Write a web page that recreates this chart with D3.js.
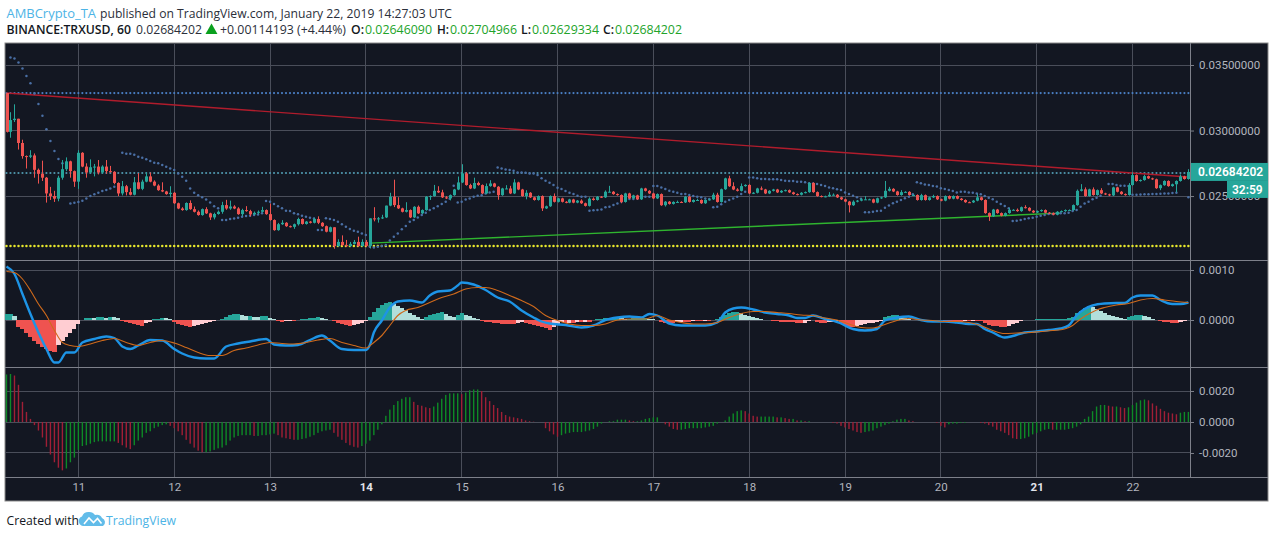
<!DOCTYPE html>
<html><head><meta charset="utf-8">
<script src="https://cdn.jsdelivr.net/npm/d3@7/dist/d3.min.js"></script>
<style>html,body{margin:0;padding:0;background:#fff;overflow:hidden}svg{display:block}text{font-family:"Open Sans",Roboto,sans-serif}</style>
</head><body><svg id="c" width="1274" height="538"></svg>
<script>
// All series are hourly bars, in units of 0.00001 USD
const unit = 1e-5;
const firstOpen = 3286;
const closes = [
2990,3080,3090,2905,2805,2800,2810,2700,2670,2640,
2520,2500,2480,2640,2705,2765,2690,2610,2830,2725,
2680,2720,2725,2680,2725,2690,2685,2600,2520,2575,
2530,2510,2605,2555,2610,2650,2610,2580,2545,2535,
2515,2525,2445,2405,2393,2447,2400,2380,2355,2400,
2368,2337,2363,2380,2431,2405,2420,2405,2362,2393,
2385,2360,2372,2380,2393,2362,2317,2240,2285,2296,
2270,2265,2285,2325,2287,2305,2296,2325,2296,2270,
2228,2262,2118,2150,2125,2118,2135,2150,2118,2150,
2120,2330,2322,2330,2337,2427,2495,2431,2406,2380,
2393,2337,2418,2368,2393,2495,2500,2540,2528,2490,
2482,2507,2550,2604,2673,2584,2558,2600,2584,2520,
2576,2596,2571,2507,2558,2558,2520,2604,2550,2500,
2525,2490,2470,2500,2406,2422,2500,2456,2482,2456,
2450,2474,2450,2465,2445,2425,2480,2470,2495,2490,
2533,2533,2515,2508,2455,2520,2482,2505,2475,2558,
2540,2520,2482,2515,2430,2457,2440,2455,2455,2452,
2495,2455,2470,2470,2445,2470,2475,2510,2455,2552,
2635,2575,2550,2540,2576,2585,2520,2525,2558,2550,
2520,2540,2550,2528,2540,2545,2528,2515,2510,2525,
2530,2600,2530,2500,2495,2498,2510,2510,2490,2475,
2458,2430,2457,2465,2475,2475,2475,2450,2483,2490,
2540,2555,2535,2508,2530,2532,2508,2508,2470,2507,
2470,2490,2500,2475,2465,2500,2480,2500,2480,2470,
2453,2452,2465,2490,2470,2370,2345,2397,2370,2350,
2370,2395,2395,2385,2415,2410,2388,2375,2385,2393,
2373,2370,2358,2380,2385,2393,2393,2431,2540,2551,
2500,2551,2508,2545,2520,2513,2505,2566,2533,2515,
2508,2584,2660,2615,2622,2652,2635,2628,2560,2583,
2615,2576,2590,2615,2650,2630,2684];
const wickUp = [
0,60,110,0,25,5,40,15,10,100, 5,50,40,15,70,30,5,5,20,5,
25,60,20,50,10,50,40,5,5,40, 10,30,40,70,15,30,30,10,10,60,
5,50,5,5,10,5,20,20,10,5, 15,5,10,10,25,40,45,10,10,10,
30,10,10,10,25,5,80,5,10,20, 5,5,5,10,5,5,5,10,20,5,
5,5,0,20,50,40,15,15,40,20, 15,0,85,10,20,0,30,130,60,5,
60,5,5,10,5,5,5,45,35,20, 10,5,5,45,70,10,10,40,10,5,
20,25,5,5,5,25,20,25,5,5, 20,5,5,5,5,5,5,20,5,5,
5,5,5,5,10,5,10,10,5,5, 10,45,5,5,5,5,5,5,5,5,
5,5,5,5,5,5,5,5,10,5, 5,5,5,10,5,5,5,15,15,5,
5,20,30,10,20,5,5,5,5,15, 5,5,5,5,5,5,5,5,5,5,
5,5,5,5,5,5,20,10,5,5, 5,5,10,5,10,25,5,5,5,5,
75,15,5,5,15,5,5,5,5,10, 5,5,10,5,5,5,5,5,5,5,
5,5,5,25,5,5,5,5,5,5, 5,15,5,10,5,15,5,5,5,5,
5,5,5,5,5,5,5,5,10,40, 15,5,15,5,15,5,5,5,5,5,
5,15,20,5,5,10,5,5,5,5, 5,5,5,5,15,5,21];
const wickDown = [
5,45,15,50,20,90,10,60,75,25, 70,30,25,20,15,15,50,40,55,5,
40,5,70,15,10,20,5,10,20,15, 25,5,5,5,10,5,5,5,5,5,
5,25,5,5,5,5,5,5,5,5, 5,20,15,5,15,10,10,5,5,15,
5,15,5,10,5,5,5,5,5,5, 5,5,15,10,5,5,5,5,10,5,
5,5,20,5,5,5,5,5,5,5, 10,20,15,25,5,5,5,15,5,5,
5,5,5,5,5,5,25,5,5,5, 5,15,5,5,5,5,5,5,5,5,
5,5,5,35,5,5,5,5,5,5, 25,5,5,5,20,5,5,5,5,5,
5,5,5,5,5,5,5,5,5,5, 5,5,5,5,10,5,5,5,5,5,
5,5,5,5,5,10,5,5,5,5, 5,5,5,5,5,5,5,5,5,5,
5,5,5,5,5,5,5,5,5,5, 5,5,5,5,5,5,5,5,5,5,
5,5,5,5,5,5,5,5,5,5, 5,55,5,5,5,5,5,5,5,5,
5,5,5,5,5,5,5,5,5,5, 5,5,5,5,5,5,5,5,5,5,
5,5,5,5,5,5,35,5,5,5, 5,5,5,5,5,5,5,5,5,5,
5,5,5,5,5,5,5,5,5,5, 5,5,5,5,5,5,5,5,5,5,
5,5,5,5,5,5,5,5,5,15, 5,5,5,60,5,5,5];
// Parabolic SAR runs: [first bar, values]
const sarRuns = [
[1,[3558,3550,3520,3474,3416,3360,3283,3202,3113,3009,2920,2843,2782,2750]],
[16,[2444,2449,2454,2465,2482,2500,2513,2525,2538,2546,2558,2571,2584]],
[29,[2831,2823,2823,2815,2800,2793,2780,2767,2755,2750,2737,2724,2711,2699,2673,2648,2617,2558,2525,2507,2490,2474,2451,2423,2406]],
[54,[2317,2317,2324,2329,2334,2342,2347,2350,2355,2360,2368]],
[65,[2462,2457,2439,2423,2406,2388,2385,2368,2362,2350,2342,2334,2329]],
[78,[2240,2240]],
[80,[2330,2324,2317,2304,2284,2266,2248,2235,2228,2215,2202]],
[91,[2113,2108,2113,2118,2126,2160,2190,2215,2246,2271,2304,2317,2337,2355,2373,2393,2406,2423,2439,2457,2480,2578]],
[113,[2451,2457,2474,2482,2495,2502,2507,2520,2528,2533]],
[123,[2718,2711,2703,2698,2693,2680,2680,2678,2673,2673,2660,2635,2617,2602,2584,2563,2553,2538,2525,2515,2502,2495,2495]],
[146,[2388,2391,2393,2398,2414,2419,2431,2444,2457,2469,2477,2477,2482,2495,2495,2495]],
[162,[2576,2576,2566,2553,2541,2533,2525,2515,2515,2508,2500,2495,2490,2482,2477]],
[177,[2414,2419,2437,2457,2470,2482,2495,2515,2533]],
[186,[2642,2642,2635,2630,2630,2628,2628,2628,2622,2617,2615,2615,2610,2610,2605,2597,2595,2592,2584,2577,2566,2559,2551,2546,2528,2515,2503,2490,2480]],
[215,[2376,2376,2381,2386,2388,2411,2427,2445,2457,2470,2483,2495,2513]],
[228,[2605,2597,2589,2584,2577,2572,2559,2554,2546,2538,2528,2533,2533,2528,2525,2520,2513,2500,2487,2475,2457,2439,2424,2406]],
[252,[2309,2312,2317,2325,2330,2335,2342,2350,2355,2363,2363,2368,2368,2368,2373,2386,2393,2419,2444,2457,2475,2487,2503]],
[276,[2592,2592,2584,2579,2579,2576]],
[282,[2510,2510,2512,2513,2513,2515,2515,2518,2520,2520,2523,2525]],
[296,[2490]]];
// Horizontal levels and trend lines (bar index, price)
const levelBlue = 3286, levelTeal = 2676, levelYellow = 2119;
const trendRed = [[0,3286],[296,2645]];
const trendGreen = [[91,2141],[264,2370]];
// MACD panel
const macdHist = [
12,12,8,-14,-18,-26,-34,-42,-48,-54,
-58,-62,-64,-50,-42,-34,-26,-18,-8,1,
4,5,4,6,6,4,7,6,4,-2,
-4,-6,-8,-10,-12,-6,-3,2,3,5,
4,3,-4,-8,-10,-12,-14,-12,-10,-8,
-6,-4,-2,1,2,6,10,12,12,10,
8,8,7,6,8,8,4,2,-2,-4,
-2,-1,-1,1,2,3,4,5,6,5,
3,1,-1,-6,-8,-10,-12,-10,-8,-5,
-2,6,16,24,30,34,36,32,28,24,
20,14,10,6,2,6,10,12,14,16,
12,8,6,10,14,10,8,5,2,-2,
-3,-4,-5,-6,-7,-8,-8,-8,-6,-4,
-5,-8,-10,-12,-14,-16,-20,-14,-8,-4,
-6,-5,-5,-4,-4,-3,-3,1,2,3,
4,4,5,5,4,3,3,4,4,4,
4,3,2,0,-4,-6,-6,-6,-4,-3,
-3,-3,-2,-2,-2,-1,-1,1,2,6,
10,14,16,16,14,10,8,6,4,3,
1,0,-2,-2,-3,-3,-4,-4,-5,-6,
-5,-1,0,-4,-5,-5,-4,-3,-1,-6,
-10,-14,-14,-12,-10,-8,-6,-5,-4,-2,
6,8,10,10,8,4,2,1,0,0,
0,0,0,0,0,-1,-2,-2,-3,-3,
-2,-2,-1,-1,-1,-6,-10,-12,-12,-14,
-14,-12,-8,-5,-2,0,1,1,2,2,
2,2,2,2,3,3,4,6,14,18,
24,28,26,22,18,14,10,8,6,4,
2,6,8,10,10,8,6,3,0,-2,
-4,-4,-5,-5,-4,-2,1];
const macdLine = [[0,107],[2,92],[4,52],[6,12],[8,-25],[10,-58],[12,-85],[13,-85],[15,-65],[17,-65],[19,-45],[22,-38],[25,-33],[27,-36],[29,-53],[31,-58],[33,-51],[36,-40],[39,-41],[42,-58],[44,-67],[47,-75],[50,-77],[52,-77],[55,-53],[58,-47],[61,-43],[65,-38],[67,-49],[70,-51],[73,-50],[76,-40],[79,-31],[81,-41],[84,-58],[87,-60],[90,-60],[91,-50],[92,-25],[94,-1],[96,25],[98,37],[101,39],[104,35],[106,49],[108,57],[111,59],[113,69],[114,75],[117,71],[120,60],[123,45],[126,37],[129,19],[132,5],[134,-3],[136,-7],[140,-10],[144,-15],[147,-11],[150,0],[153,5],[156,7],[159,5],[161,12],[163,9],[166,-7],[169,-11],[172,-11],[175,-11],[178,-5],[180,15],[182,23],[184,25],[187,21],[190,15],[193,12],[196,9],[198,4],[200,4],[202,9],[205,2],[207,-1],[209,-7],[212,-18],[215,-21],[218,-18],[220,-1],[223,5],[226,7],[229,0],[232,-3],[235,-3],[238,-5],[241,-8],[243,-8],[245,-18],[247,-25],[250,-35],[252,-32],[255,-25],[258,-23],[261,-20],[264,-17],[266,-11],[268,9],[270,22],[272,29],[275,33],[278,34],[280,34],[282,45],[284,49],[287,49],[289,40],[292,32],[294,32],[296,35]];
const signalLine = [[0,97],[2,95],[4,82],[6,59],[8,32],[10,9],[12,-21],[14,-45],[16,-51],[18,-53],[21,-48],[24,-41],[27,-37],[30,-45],[33,-51],[36,-45],[39,-41],[42,-46],[45,-55],[48,-65],[51,-71],[54,-71],[57,-61],[60,-56],[63,-50],[66,-45],[69,-47],[72,-48],[75,-45],[78,-40],[81,-37],[84,-45],[87,-51],[90,-56],[92,-45],[94,-31],[96,-11],[98,9],[100,19],[103,25],[106,35],[109,45],[112,52],[115,62],[118,65],[120,65],[123,59],[126,49],[129,39],[132,27],[135,9],[138,-1],[141,-8],[144,-11],[147,-11],[150,-8],[153,0],[156,2],[160,2],[163,9],[166,0],[169,-5],[172,-8],[175,-8],[178,-5],[181,5],[184,13],[187,17],[190,17],[193,15],[196,13],[199,10],[202,9],[205,4],[208,0],[211,-8],[214,-15],[217,-16],[220,-9],[223,-1],[226,3],[229,0],[232,-1],[235,-3],[238,-3],[241,-5],[244,-11],[247,-21],[250,-27],[253,-26],[256,-25],[259,-23],[262,-21],[265,-18],[267,-11],[269,2],[271,12],[273,20],[275,25],[278,30],[281,33],[284,40],[287,43],[290,40],[293,37],[296,35]];
// Lower oscillator panel
const oscillator = [
307,310,300,240,130,65,20,-20,-55,-100,
-160,-210,-260,-295,-312,-300,-260,-230,-180,-155,
-150,-140,-130,-125,-125,-125,-125,-125,-135,-150,
-165,-175,-150,-120,-100,-70,-60,-40,-30,-20,
-15,-25,-40,-60,-85,-115,-140,-165,-185,-195,
-195,-190,-180,-170,-165,-150,-120,-100,-90,-85,
-85,-85,-90,-90,-85,-85,-80,-75,-85,-100,
-105,-110,-115,-115,-110,-105,-95,-85,-70,-60,
-55,-50,-70,-95,-115,-135,-150,-160,-165,-155,
-140,-120,-85,-50,-15,40,80,110,135,150,
160,160,130,110,105,95,90,100,125,150,
175,185,185,185,180,190,205,210,210,200,
160,135,110,90,65,45,35,30,25,20,
10,5,2,0,0,-40,-60,-80,-95,-85,
-75,-70,-65,-65,-65,-60,-55,-45,-30,-10,
0,5,5,15,15,15,10,5,5,10,
20,25,30,30,0,-15,-30,-45,-50,-50,
-45,-40,-40,-40,-40,-35,-30,-25,-10,0,
10,35,55,70,75,70,55,40,35,35,
35,35,35,30,30,25,20,20,10,10,
5,5,0,0,0,0,0,-5,-10,-25,
-35,-45,-55,-65,-70,-65,-60,-55,-40,-30,
-20,-10,5,15,20,20,10,5,0,0,
0,0,0,-5,-25,-35,-15,-10,-10,-5,
-5,0,0,0,-5,-10,-20,-30,-50,-60,
-70,-85,-105,-110,-110,-105,-95,-80,-70,-60,
-50,-45,-50,-50,-50,-50,-45,-40,-30,-15,
20,35,70,100,110,110,105,100,100,95,
90,95,110,125,140,145,140,120,105,85,
70,60,55,50,60,65,65];
const dayTicks = ["11","12","13","14","15","16","17","18","19","20","21","22"];
const firstDayBar = 18, barsPerDay = 24;
const priceTicks = [0.035, 0.03, 0.025];
const macdTicks = [0.001, 0];
const oscTicks = [0.002, 0, -0.002];
const lastPrice = "0.02684202", countdown = "32:59";

const colors = {up:"#26a69a",down:"#ef5350",bg:"#131722",grid:"#4a4e5a",sep:"#7d808a",label:"#b2b5be",
  sar:"#4a6fa5",blue:"#4a7fc4",teal:"#4f97ad",yellow:"#e8e82c",macd:"#1d94e6",signal:"#cf6a1c",
  histUp:"#26a69a",histUpFade:"#b2dfdb",histDown:"#ef5350",histDownFade:"#ffcdd2",oscUp:"#0e8a26",oscDown:"#a01f36"};

const bars = closes.length;
const opens = closes.map((c,i)=> i ? closes[i-1] : firstOpen);
const highs = closes.map((c,i)=> Math.max(c,opens[i])+wickUp[i]);
const lows  = closes.map((c,i)=> Math.min(c,opens[i])-wickDown[i]);

const L=5,R=1268,T=43,B=501,AX=1190;
const P={top:43,m1:260,m2:367,bot:477};
const x = d3.scaleLinear().domain([0,296]).range([6.5,1188.4]);
const yPrice = d3.scaleLinear().domain([0.02012,0.03668]).range([P.m1,P.top]);
const yMacd = d3.scaleLinear().domain([-0.00094,0.0012]).range([P.m2,P.m1]);
const yOsc = d3.scaleLinear().domain([-0.00355,0.00355]).range([P.bot,P.m2]);
const pv = v => v*unit;

const svg = d3.select("#c");
svg.append("rect").attr("x",L).attr("y",T).attr("width",R-L).attr("height",B-T).attr("fill",colors.bg).attr("stroke","#8a8a8a").attr("stroke-width",1);

// grid
const dayBars = dayTicks.map((d,i)=>firstDayBar+i*barsPerDay);
const grid = svg.append("g").attr("stroke",colors.grid).attr("stroke-width",1).attr("shape-rendering","crispEdges");
grid.selectAll(".v").data(dayBars).join("line").attr("x1",d=>x(d)).attr("x2",d=>x(d)).attr("y1",P.top).attr("y2",P.bot);
const hline=(arr,s)=>grid.selectAll(null).data(arr).join("line").attr("x1",L).attr("x2",AX).attr("y1",d=>s(d)).attr("y2",d=>s(d));
hline(priceTicks,yPrice);hline(macdTicks,yMacd);hline(oscTicks,yOsc);

// level dots
const idx = d3.range(bars);
[[levelBlue,colors.blue],[levelTeal,colors.teal],[levelYellow,colors.yellow]].forEach(([lv,col])=>{
  svg.append("g").attr("fill",col).selectAll("circle").data(idx).join("circle")
    .attr("cx",d=>x(d)).attr("cy",yPrice(pv(lv))).attr("r",lv===levelYellow?1.25:1.1);
});

// trend lines
const ln = d3.line().x(d=>x(d[0])).y(d=>yPrice(pv(d[1])));
svg.append("path").attr("d",ln(trendRed)).attr("fill","none").attr("stroke","#b01c2c").attr("stroke-width",1.4);
svg.append("path").attr("d",ln(trendGreen)).attr("fill","none").attr("stroke","#2fb52f").attr("stroke-width",1.4);

// SAR
const sarPts = sarRuns.flatMap(([s,vals])=>vals.map((v,k)=>[s+k,v]));
svg.append("g").attr("fill",colors.sar).selectAll("circle").data(sarPts).join("circle")
  .attr("cx",d=>x(d[0])).attr("cy",d=>yPrice(pv(d[1]))).attr("r",1.25);

// candles
const cg = svg.append("g");
idx.forEach(i=>{
  const col = closes[i]>=opens[i]?colors.up:colors.down;
  const xc = Math.round(x(i))+0.5;
  cg.append("line").attr("x1",xc).attr("x2",xc).attr("y1",yPrice(pv(highs[i]))).attr("y2",yPrice(pv(lows[i]))).attr("stroke",col).attr("stroke-width",1);
  const y0=yPrice(pv(Math.max(opens[i],closes[i]))), y1=yPrice(pv(Math.min(opens[i],closes[i])));
  cg.append("rect").attr("x",xc-1.5).attr("width",3).attr("y",y0).attr("height",Math.max(1,y1-y0)).attr("fill",col);
});

// MACD histogram
const hcolor=(v,i)=>{const p=i?macdHist[i-1]:v; return v>=0?(v>=p?colors.histUp:colors.histUpFade):(v<=p?colors.histDown:colors.histDownFade);};
svg.append("g").attr("shape-rendering","crispEdges").selectAll("rect").data(macdHist).join("rect")
  .attr("x",(d,i)=>x(i)-2).attr("width",4.1)
  .attr("y",d=>Math.min(yMacd(0),yMacd(pv(d)))).attr("height",d=>Math.abs(yMacd(pv(d))-yMacd(0)))
  .attr("fill",hcolor);
const lm = d3.line().x(d=>x(d[0])).y(d=>yMacd(pv(d[1]))).curve(d3.curveMonotoneX);
svg.append("path").attr("d",lm(macdLine)).attr("fill","none").attr("stroke",colors.macd).attr("stroke-width",2.4);
svg.append("path").attr("d",lm(signalLine)).attr("fill","none").attr("stroke",colors.signal).attr("stroke-width",1.1);

// oscillator
svg.append("g").selectAll("rect").data(oscillator).join("rect")
  .attr("x",(d,i)=>x(i)-0.7).attr("width",1.4)
  .attr("y",d=>Math.min(yOsc(0),yOsc(pv(d)))).attr("height",d=>Math.abs(yOsc(pv(d))-yOsc(0)))
  .attr("fill",(d,i)=>(i&&d<oscillator[i-1])?colors.oscDown:colors.oscUp);

// separators
const sep = svg.append("g").attr("stroke",colors.sep).attr("stroke-width",1).attr("shape-rendering","crispEdges");
[P.m1,P.m2,P.bot].forEach(y=>sep.append("line").attr("x1",L).attr("x2",R).attr("y1",y).attr("y2",y));
sep.append("line").attr("x1",AX).attr("x2",AX).attr("y1",T).attr("y2",P.bot);

// axes
const styleAxis = (g,fs)=>{g.select(".domain").remove();g.selectAll("line").attr("stroke",colors.sep);
  g.selectAll("text").attr("fill",colors.label).style("font-family","Roboto,sans-serif").style("font-size",fs+"px");};
const rightAxis=(s,ticks,dec)=>svg.append("g").attr("transform",`translate(${AX},0)`)
  .call(d3.axisRight(s).tickValues(ticks).tickSize(4).tickPadding(5).tickFormat(d=>d.toFixed(dec)))
  .call(styleAxis,11.5);
rightAxis(yPrice,priceTicks,8);rightAxis(yMacd,macdTicks,4);rightAxis(yOsc,oscTicks,4);
const xa = svg.append("g").attr("transform",`translate(0,${P.bot})`)
  .call(d3.axisBottom(x).tickValues(dayBars).tickSize(0).tickPadding(6).tickFormat((d,i)=>dayTicks[i])).call(styleAxis,11.5);
xa.selectAll("text").filter((d,i)=>dayTicks[i]==="14"||dayTicks[i]==="21").attr("fill","#e0e3eb").style("font-weight","700");

// price tags
const yLast = yPrice(pv(closes[bars-1]));
svg.append("rect").attr("x",AX+1).attr("y",yLast-9).attr("width",R-AX-1).attr("height",18).attr("fill",colors.up);
svg.append("text").attr("x",1198).attr("y",yLast+4.5).attr("fill","#fff").attr("font-weight",600).style("font-family","Roboto,sans-serif").style("font-size","12px").text(lastPrice);
svg.append("rect").attr("x",1227).attr("y",yLast+9).attr("width",R-1227).attr("height",17).attr("fill",colors.up);
svg.append("text").attr("x",1232).attr("y",yLast+22).attr("fill","#fff").attr("font-weight",600).style("font-family","Roboto,sans-serif").style("font-size","12px").text(countdown);

// header
const hdr=(t,x0,x1,y,col,w)=>svg.append("text").attr("x",x0).attr("y",y).attr("fill",col).attr("font-weight",w||400).attr("font-size",13)
  .attr("textLength",x1-x0).attr("lengthAdjust","spacingAndGlyphs").text(t);
const G="#22a32a",K="#131722",N="#2b2f3a";
hdr("AMBCrypto_TA",6.5,96,18,"#4db4e6");
hdr("published on TradingView.com, January 22, 2019 14:27:03 UTC",100,452,18,N);
hdr("BINANCE:TRXUSD, 60",6.5,131,34,K,600);
hdr("0.02684202",136,202,34,N);
svg.append("path").attr("d",d3.symbol(d3.symbolTriangle,62)()).attr("transform","translate(211.5,30.5)").attr("fill","#0aa01e");
hdr("+0.00114193 (+4.44%)",220,346,34,N);
hdr("O:",351,364,34,K,600);hdr("0.02646090",365,432,34,G);
hdr("H:",437,449,34,K,600);hdr("0.02704966",450,517,34,G);
hdr("L:",521,531,34,K,600);hdr("0.02629334",532,599,34,G);
hdr("C:",603,614,34,K,600);hdr("0.02684202",615,682,34,G);

// footer
hdr("Created with",6.5,79,525,K);
hdr("TradingView",106,176,525,"#4db4e6");
svg.append("path").attr("d","M83 526a5 5 0 0 1-1-9.6 7 7 0 0 1 7-4.4 7 7 0 0 1 6 3 6 6 0 0 1 7 3 4.5 4.5 0 0 1 1 8z").attr("fill","#62bce9");
svg.append("path").attr("d","M84 524l5-6 4.5 4.5 4-4 4 5").attr("fill","none").attr("stroke","#fff").attr("stroke-width",1.6);
</script></body></html>
